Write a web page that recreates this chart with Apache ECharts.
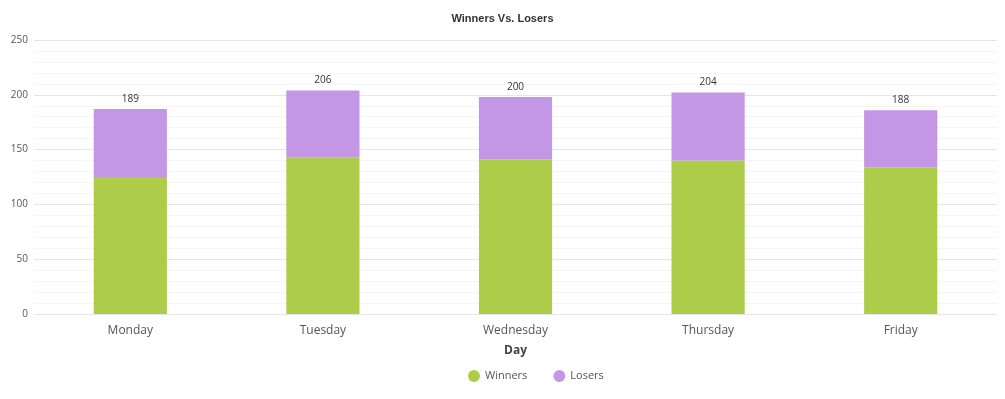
<!DOCTYPE html>
<html>
<head>
<meta charset="utf-8">
<script src="https://cdn.jsdelivr.net/npm/echarts@6/dist/echarts.min.js"></script>
<style>
  html, body { margin: 0; padding: 0; background: #fff; }
  #mainChart { width: 1005px; height: 399px; }
</style>
</head>
<body>
<div id="mainChart"></div>
<script>
var days = ['Monday', 'Tuesday', 'Wednesday', 'Thursday', 'Friday'];
var winners = [125, 143, 141, 140, 134];
var losers = [62, 61, 57, 62, 52];
var totals = [189, 206, 200, 204, 188]; // label shown above each bar

var myChart = echarts.init(document.getElementById('mainChart'));
myChart.setOption({
  animation: false,
  textStyle: { fontFamily: 'Open Sans, Arial, sans-serif' },
  title: {
    text: 'Winners Vs. Losers',
    left: 'center',
    top: 8,
    textStyle: { fontSize: 11, fontWeight: 'bold', color: '#333', fontFamily: 'Arial' }
  },
  grid: { left: 34, right: 8, top: 40, bottom: 85 },
  legend: {
    top: 365,
    left: 463,
    icon: 'circle',
    itemWidth: 12,
    itemHeight: 12,
    itemGap: 26,
    textStyle: { fontSize: 11, color: '#555' },
    data: ['Winners', 'Losers']
  },
  xAxis: {
    type: 'category',
    data: days,
    name: 'Day',
    nameLocation: 'middle',
    nameGap: 31,
    nameTextStyle: { fontSize: 12, fontWeight: 'bold', color: '#444' },
    axisLine: { show: false },
    axisTick: { show: false },
    axisLabel: { fontSize: 12, color: '#555', margin: 11 }
  },
  yAxis: {
    type: 'value',
    min: 0,
    max: 250,
    interval: 50,
    axisLine: { show: false },
    axisTick: { show: false },
    axisLabel: { fontSize: 10, color: '#555', margin: 6 },
    splitLine: { lineStyle: { color: '#e6e6e6' } },
    minorTick: { show: false, splitNumber: 5 },
    minorSplitLine: { show: true, lineStyle: { color: '#f5f5f5' } }
  },
  series: [
    {
      name: 'Winners',
      type: 'bar',
      stack: 'total',
      barWidth: '38%',
      itemStyle: { color: '#adcd4a' },
      data: winners
    },
    {
      name: 'Losers',
      type: 'bar',
      stack: 'total',
      itemStyle: { color: '#c397e6' },
      label: {
        show: true,
        position: 'top',
        distance: 5,
        fontSize: 10,
        color: '#333',
        formatter: function (p) { return totals[p.dataIndex]; }
      },
      data: losers
    }
  ]
});
</script>
</body>
</html>
